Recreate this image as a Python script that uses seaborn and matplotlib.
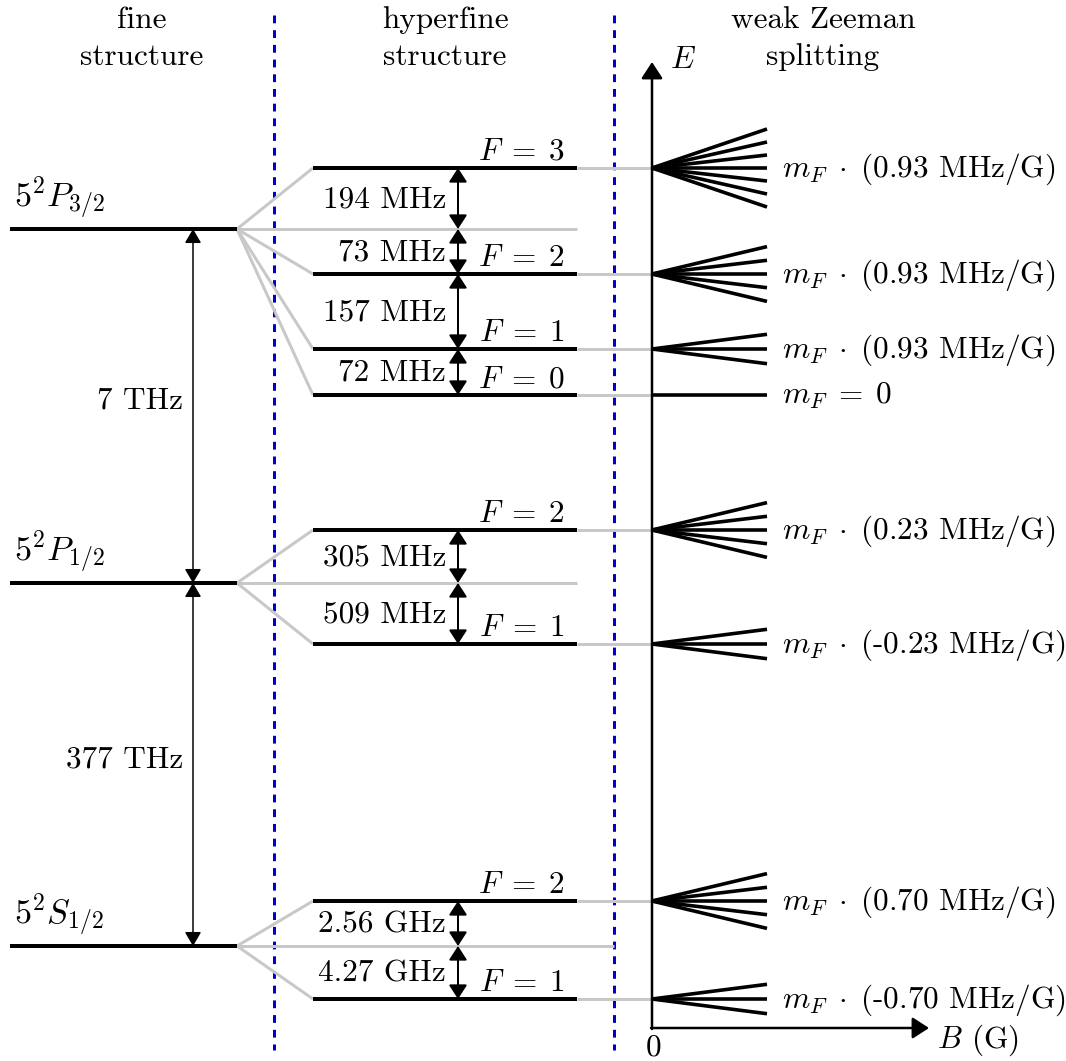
import matplotlib
matplotlib.use("Agg")
import matplotlib.pyplot as plt
import seaborn as sns
import pandas as pd
import numpy as np

# ---------------- data ----------------
fine_names = [r"$5^2P_{3/2}$", r"$5^2P_{1/2}$", r"$5^2S_{1/2}$"]
fine_E = [229, 583, 946]                 # schematic energy coordinate (downwards)
fine_gap_labels = ["7 THz", "377 THz"]

hf_parent = [0, 0, 0, 0, 1, 1, 2, 2]
hf_F = [3, 2, 1, 0, 2, 1, 2, 1]
hf_E = [168, 274, 349, 395, 530, 644, 901, 999]
hf_gap_labels = [
    ["194 MHz", "73 MHz", "157 MHz", "72 MHz"],
    ["305 MHz", "509 MHz"],
    ["2.56 GHz", "4.27 GHz"],
]
zeeman_g = ["0.93", "0.93", "0.93", None, "0.23", "-0.23", "0.70", "-0.70"]

headers = [("fine", "structure"), ("hyperfine", "structure"), ("weak Zeeman", "splitting")]

# ---------------- layout / style ----------------
W, H = 1066, 1061
X_FINE0, X_FINE1 = 10, 237
X_HF0, X_HF1 = 313, 577
X_ZAX = 652
X_ZEND = 767
center_end = [577, 577, 614]
X_SEP = [274, 614]
X_HEAD = [142, 445, 823]
X_FINE_ARROW = 193
X_HF_ARROW = 458
fan_step = {3: 13.0, 2: 13.7, 1: 14.7, 0: 0.0}
BLACK = "black"
GRAY = "#c8c8c8"
BLUE = "#0000c8"
FS = 22.5
FS_NAME = 24.5
PX = 0.72  # px -> pt at dpi 100

sns.set_theme(style="white")
plt.rcParams["font.family"] = "serif"
plt.rcParams["font.serif"] = ["cmr10"]
plt.rcParams["mathtext.fontset"] = "cm"
plt.rcParams["axes.unicode_minus"] = False
plt.rcParams["text.color"] = "black"

fig = plt.figure(figsize=(W / 100, H / 100), dpi=100)
ax = fig.add_axes([0, 0, 1, 1])
ax.set_xlim(0, W)
ax.set_ylim(H, 0)
ax.axis("off")


def segs_df(segs):
    rows = []
    for i, (x0, y0, x1, y1) in enumerate(segs):
        rows.append({"seg": i, "x": x0, "y": y0})
        rows.append({"seg": i, "x": x1, "y": y1})
    return pd.DataFrame(rows)


def draw(segs, color, lw_px, z):
    df = segs_df(segs)
    sns.lineplot(data=df, x="x", y="y", units="seg", estimator=None, sort=False,
                 color=color, lw=lw_px * PX, ax=ax, zorder=z,
                 solid_capstyle="butt", legend=False)


# separators
for xs in X_SEP:
    ax.plot([xs, xs], [15, 1050], color=BLUE, lw=3 * PX, dashes=(2.6, 2.3), zorder=1,
            dash_capstyle="butt")

# gray segments
gray = []
for i, E in enumerate(fine_E):
    gray.append((X_FINE1, E, center_end[i], E))
for p, E in zip(hf_parent, hf_E):
    gray.append((X_FINE1, fine_E[p], X_HF0, E))
    gray.append((X_HF1, E, X_ZAX, E))
draw(gray, GRAY, 3, 2)

# black level segments
black = [(X_FINE0, E, X_FINE1, E) for E in fine_E]
black += [(X_HF0, E, X_HF1, E) for E in hf_E]
draw(black, BLACK, 4, 3)

# Zeeman fans
fans = []
for F, E in zip(hf_F, hf_E):
    for m in range(-F, F + 1):
        fans.append((X_ZAX, E, X_ZEND, E - m * fan_step[F]))
draw(fans, BLACK, 3.6, 3)

# axes of Zeeman diagram
ax.annotate("", xy=(X_ZAX, 62), xytext=(X_ZAX, 1029),
            arrowprops=dict(arrowstyle="-|>,head_length=1.0,head_width=0.65",
                            mutation_scale=10, lw=2.5 * PX, color=BLACK,
                            shrinkA=0, shrinkB=0), zorder=4)
ax.annotate("", xy=(929, 1028), xytext=(X_ZAX - 1, 1028),
            arrowprops=dict(arrowstyle="-|>,head_length=1.0,head_width=0.65",
                            mutation_scale=10, lw=2.5 * PX, color=BLACK,
                            shrinkA=0, shrinkB=0), zorder=4)
ax.text(670, 68, r"$E$", fontsize=FS, ha="left", va="baseline")
ax.text(937, 1048, r"$B$ (G)", fontsize=FS, ha="left", va="baseline")
ax.text(654, 1055, "0", fontsize=FS, ha="center", va="baseline")

# headers
for x, (l1, l2) in zip(X_HEAD, headers):
    ax.text(x, 28, l1, fontsize=FS, ha="center", va="baseline")
    ax.text(x, 65, l2, fontsize=FS, ha="center", va="baseline")

# fine structure labels and arrows
for name, E in zip(fine_names, fine_E):
    ax.text(14, E - 22, name, fontsize=FS_NAME, ha="left", va="baseline")
for k, lab in enumerate(fine_gap_labels):
    y0, y1 = fine_E[k], fine_E[k + 1]
    ax.annotate("", xy=(X_FINE_ARROW, y1), xytext=(X_FINE_ARROW, y0),
                arrowprops=dict(arrowstyle="<|-|>,head_length=0.85,head_width=0.5",
                                mutation_scale=10, lw=1.5 * PX, color=BLACK,
                                shrinkA=0, shrinkB=0), zorder=5)
    ax.text(X_FINE_ARROW - 10, (y0 + y1) / 2 - 5, lab, fontsize=FS, ha="right", va="center")

# hyperfine labels and arrows
for p in range(len(fine_E)):
    pts = sorted([E for q, E in zip(hf_parent, hf_E) if q == p] + [fine_E[p]])
    for k in range(len(pts) - 1):
        y0, y1 = pts[k], pts[k + 1]
        ax.annotate("", xy=(X_HF_ARROW, y1), xytext=(X_HF_ARROW, y0),
                    arrowprops=dict(arrowstyle="<|-|>,head_length=0.85,head_width=0.55",
                                    mutation_scale=10, lw=2 * PX, color=BLACK,
                                    shrinkA=0, shrinkB=0), zorder=5)
        ax.text(X_HF_ARROW - 12, (y0 + y1) / 2 + 1, hf_gap_labels[p][k], fontsize=FS,
                ha="right", va="center")

for F, E in zip(hf_F, hf_E):
    ax.text(X_HF1 - 12, E - 8, r"$F\;=\;%d$" % F, fontsize=FS, ha="right", va="baseline")

# Zeeman labels
for g, E in zip(zeeman_g, hf_E):
    if g is None:
        t = r"$m_F\;=\;0$"
    else:
        t = r"$m_F\;\cdot\;$(%s MHz/G)" % g
    ax.text(782, E + 1, t, fontsize=FS, ha="left", va="center")

fig.savefig("out.png", dpi=100)
